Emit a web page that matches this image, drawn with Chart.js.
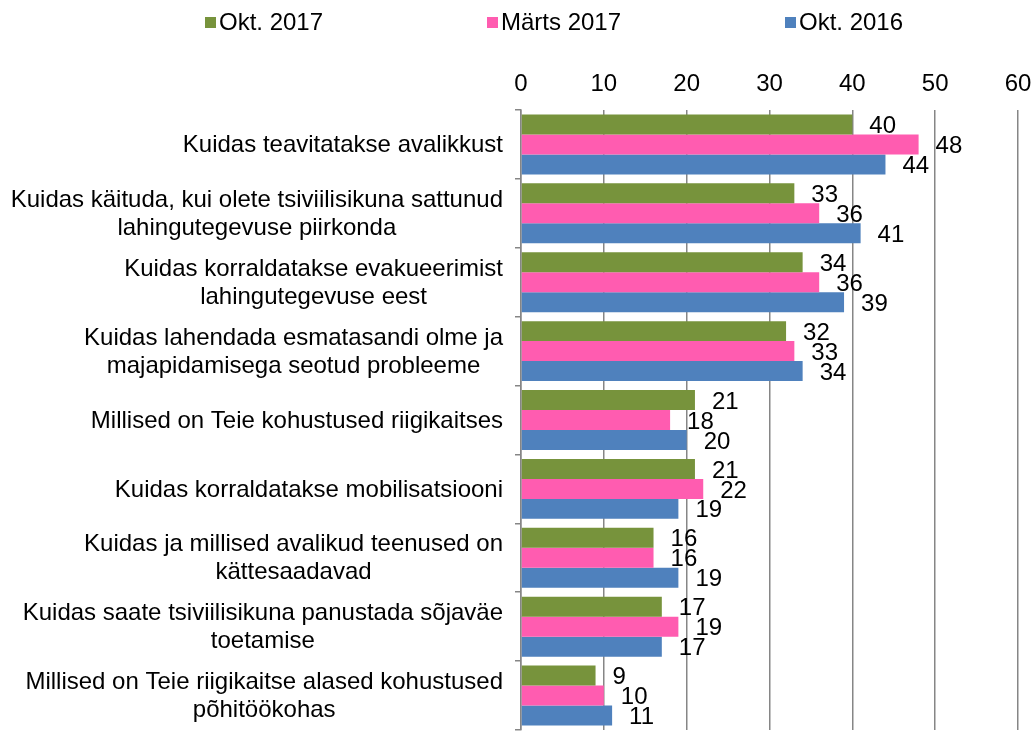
<!DOCTYPE html>
<html>
<head>
<meta charset="utf-8">
<script src="https://cdn.jsdelivr.net/npm/chart.js@4/dist/chart.umd.min.js"></script>
<style>
html,body{margin:0;padding:0;background:#fff;}
#wrap{width:1033px;height:734px;position:relative;}
</style>
</head>
<body>
<div id="wrap"><canvas id="c" width="1033" height="734"></canvas></div>
<script>
const categories = [
  ["Kuidas teavitatakse avalikkust"],
  ["Kuidas käituda, kui olete tsiviilisikuna sattunud", "lahingutegevuse piirkonda"],
  ["Kuidas korraldatakse evakueerimist", "lahingutegevuse eest"],
  ["Kuidas lahendada esmatasandi olme ja", "majapidamisega seotud probleeme"],
  ["Millised on Teie kohustused riigikaitses"],
  ["Kuidas korraldatakse mobilisatsiooni"],
  ["Kuidas ja millised avalikud teenused on", "kättesaadavad"],
  ["Kuidas saate tsiviilisikuna panustada sõjaväe", "toetamise"],
  ["Millised on Teie riigikaitse alased kohustused", "põhitöökohas"]
];
const seriesNames = ["Okt. 2017", "Märts 2017", "Okt. 2016"];
const okt2017 = [40, 33, 34, 32, 21, 21, 16, 17, 9];
const marts2017 = [48, 36, 36, 33, 18, 22, 16, 19, 10];
const okt2016 = [44, 41, 39, 34, 20, 19, 19, 17, 11];
const xTicks = [0, 10, 20, 30, 40, 50, 60];

const colors = ["#77933C", "#FF5CB0", "#4F81BD"];
const FONT = "'Liberation Sans', Arial, sans-serif";
const FS = 24;

const valueLabels = {
  id: 'valueLabels',
  afterDatasetsDraw(chart) {
    const ctx = chart.ctx;
    ctx.save();
    ctx.font = FS + "px " + FONT;
    ctx.fillStyle = "#000";
    ctx.textAlign = "left";
    ctx.textBaseline = "middle";
    chart.data.datasets.forEach((ds, di) => {
      const meta = chart.getDatasetMeta(di);
      meta.data.forEach((bar, i) => {
        ctx.fillText(String(ds.data[i]), bar.x + 17, bar.y + 2);
      });
    });
    ctx.restore();
  }
};

const catLabels = {
  id: 'catLabels',
  afterDraw(chart) {
    const ctx = chart.ctx;
    const y = chart.scales.y;
    ctx.save();
    ctx.font = FS + "px " + FONT;
    ctx.fillStyle = "#000";
    ctx.textAlign = "center";
    ctx.textBaseline = "middle";
    const right = chart.chartArea.left - 18;
    const lh = 28;
    categories.forEach((lines, i) => {
      const cy = y.getPixelForValue(i);
      let w = 0;
      lines.forEach(l => { w = Math.max(w, ctx.measureText(l).width); });
      const cx = right - w / 2;
      const y0 = cy - (lines.length - 1) * lh / 2;
      lines.forEach((l, k) => ctx.fillText(l, cx, y0 + k * lh + 1));
    });
    ctx.restore();
  }
};

const topLegend = {
  id: 'topLegend',
  afterDraw(chart) {
    const ctx = chart.ctx;
    const boxX = [205, 487, 785];
    ctx.save();
    ctx.font = FS + "px " + FONT;
    ctx.textAlign = "left";
    ctx.textBaseline = "middle";
    seriesNames.forEach((n, i) => {
      ctx.fillStyle = colors[i];
      ctx.fillRect(boxX[i], 17, 11, 11);
      ctx.fillStyle = "#000";
      ctx.fillText(n, boxX[i] + 14, 23);
    });
    ctx.restore();
  }
};

new Chart(document.getElementById('c'), {
  type: 'bar',
  data: {
    labels: categories.map(c => c.join(' ')),
    datasets: [
      { label: seriesNames[0], data: okt2017, backgroundColor: colors[0] },
      { label: seriesNames[1], data: marts2017, backgroundColor: colors[1] },
      { label: seriesNames[2], data: okt2016, backgroundColor: colors[2] }
    ]
  },
  options: {
    indexAxis: 'y',
    responsive: false,
    animation: false,
    devicePixelRatio: 1,
    layout: { padding: { left: 0, right: 15, top: 0, bottom: 4 } },
    datasets: { bar: { barPercentage: 1.0, categoryPercentage: 0.87, borderWidth: 0 } },
    plugins: { legend: { display: false }, tooltip: { enabled: false } },
    scales: {
      x: {
        position: 'top',
        min: 0, max: 60,
        afterBuildTicks(s) { s.ticks = xTicks.map(v => ({ value: v })); },
        afterFit(s) { s.height = 110; s.paddingLeft = 0; s.paddingRight = 0; },
        ticks: { font: { family: FONT, size: FS }, color: "#000", padding: 11 },
        grid: { color: "#868686", lineWidth: 1.5, drawTicks: false },
        border: { display: false }
      },
      y: {
        afterFit(s) { s.width = 521; s.paddingTop = 0; s.paddingBottom = 0; },
        ticks: { display: false },
        grid: { offset: true, drawOnChartArea: false, drawTicks: true, tickLength: 6, color: "#868686", lineWidth: 1.5 },
        border: { display: true, color: "#868686", width: 1.5 }
      }
    }
  },
  plugins: [valueLabels, catLabels, topLegend]
});
</script>
</body>
</html>
